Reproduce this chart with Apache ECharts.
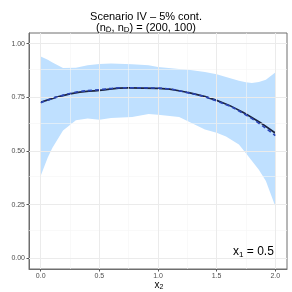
<!DOCTYPE html>
<html><head><meta charset="utf-8">
<script src="https://cdn.jsdelivr.net/npm/echarts@6/dist/echarts.min.js"></script>
<style>html,body{margin:0;padding:0;background:#fff}#c{width:292px;height:292px}</style>
</head><body><div id="c"></div>
<script>
const bandX = [0, 0.06, 0.1, 0.19, 0.3, 0.4, 0.5, 0.6, 0.78, 0.92, 1.0, 1.18, 1.26, 1.4, 1.5, 1.58, 1.69, 1.75, 1.8, 1.86, 1.92, 2.0];
const bandUpper = [0.941, 0.925, 0.912, 0.887, 0.888, 0.900, 0.905, 0.908, 0.904, 0.900, 0.892, 0.882, 0.879, 0.868, 0.858, 0.845, 0.828, 0.820, 0.817, 0.822, 0.832, 0.866];
const bandLower = [0.385, 0.47, 0.515, 0.595, 0.643, 0.652, 0.646, 0.654, 0.659, 0.672, 0.669, 0.659, 0.638, 0.60, 0.585, 0.568, 0.53, 0.49, 0.455, 0.413, 0.36, 0.242];
const lineX = [0, 0.25, 0.5, 0.75, 1.0, 1.25, 1.5, 1.75, 2.0];
const trueAUC = [0.727, 0.766, 0.783, 0.794, 0.792, 0.773, 0.736, 0.672, 0.584];
const estAUC = [0.725, 0.768, 0.786, 0.795, 0.793, 0.772, 0.733, 0.668, 0.572];
const xTicks = [0, 0.5, 1.0, 1.5, 2.0];
const xTickLabels = ['0.0', '0.5', '1.0', '1.5', '2.0'];
const xMinor = [0.25, 0.75, 1.25, 1.75];
const yTicks = [0, 0.25, 0.5, 0.75, 1.0];
const yTickLabels = ['0.00', '0.25', '0.50', '0.75', '1.00'];
const yMinor = [0.125, 0.375, 0.625, 0.875];

const chart = echarts.init(document.getElementById('c'), null, {renderer: 'canvas'});
const F = 'Liberation Sans, Arial, sans-serif';
const gridLines = [].concat(
  xMinor.map(v => ({xAxis: v, lineStyle: {color: '#f5f5f5', width: 0.6, type: 'solid'}})),
  yMinor.map(v => ({yAxis: v, lineStyle: {color: '#f5f5f5', width: 0.6, type: 'solid'}})),
  xTicks.map(v => ({xAxis: v, lineStyle: {color: '#ebebeb', width: 1, type: 'solid'}})),
  yTicks.map(v => ({yAxis: v, lineStyle: {color: '#ebebeb', width: 1, type: 'solid'}}))
);
const bandData = bandX.map((x, i) => [x, bandLower[i], bandUpper[i]]);
chart.setOption({
  animation: false,
  title: [{
    text: 'Scenario IV \u2013 5% cont.',
    left: 'center', top: 6,
    textStyle: {fontFamily: F, fontSize: 11, fontWeight: 'normal', color: '#000'}
  }, {
    text: '(n{s|D\u0304}, n{s|D}) = (200, 100)',
    left: 'center', top: 17,
    textStyle: {fontFamily: F, fontSize: 11, fontWeight: 'normal', color: '#000',
      rich: {s: {fontFamily: F, fontSize: 8, verticalAlign: 'bottom', padding: [4, 0, 0, 0], color: '#000'}}}
  }],
  graphic: [{
    type: 'text', left: 233, top: 246, z: 100,
    style: {text: 'x{s|1} = 0.5', fontFamily: F, fontSize: 12, fill: '#000',
      rich: {s: {fontFamily: F, fontSize: 8, padding: [5, 0, 0, 0], verticalAlign: 'bottom'}}}
  }, {
    type: 'text', x: 159, y: 280, z: 100,
    style: {text: 'x{s|2}', textAlign: 'center', fontFamily: F, fontSize: 10, fill: '#000',
      rich: {s: {fontFamily: F, fontSize: 7, padding: [4, 0, 0, 0], verticalAlign: 'bottom'}}}
  }],
  grid: {left: 29, right: 5, top: 33, bottom: 23, outerBoundsMode: 'none', containLabel: false,
         show: true, borderColor: '#6e6e6e', borderWidth: 1, backgroundColor: '#fff'},
  xAxis: {
    type: 'value', min: -0.1, max: 2.1,
    axisLine: {show: true, onZero: false, lineStyle: {color: '#6e6e6e'}},
    axisTick: {show: true, customValues: xTicks, length: 2.5, lineStyle: {color: '#555'}},
    axisLabel: {customValues: xTicks, formatter: v => xTickLabels[xTicks.indexOf(v)] ?? '', fontFamily: F, fontSize: 7, color: '#4d4d4d', margin: 4},
    splitLine: {show: false}
  },
  yAxis: {
    type: 'value', min: -0.05, max: 1.05,
    name: 'AUC', nameLocation: 'middle', nameGap: 19, nameRotate: 90,
    nameTextStyle: {fontFamily: F, fontSize: 9, color: '#000'},
    axisLine: {show: true, onZero: false, lineStyle: {color: '#6e6e6e'}},
    axisTick: {show: true, customValues: yTicks, length: 2.5, lineStyle: {color: '#555'}},
    axisLabel: {customValues: yTicks, formatter: v => yTickLabels[yTicks.indexOf(v)] ?? '', fontFamily: F, fontSize: 7, color: '#4d4d4d', margin: 4},
    splitLine: {show: false}
  },
  series: [
    {type: 'line', data: [], silent: true, z: 1,
     markLine: {silent: true, symbol: 'none', label: {show: false}, animation: false, data: gridLines}},
    {type: 'custom', name: 'band', data: bandData, silent: true, z: 2,
     encode: {x: 0, y: [1, 2]},
     renderItem: function (params, api) {
       if (params.dataIndex !== 0) return null;
       const upper = bandData.map(d => api.coord([d[0], d[2]]));
       const lower = bandData.map(d => api.coord([d[0], d[1]])).reverse();
       return {type: 'polygon', shape: {points: upper.concat(lower)},
               style: {fill: '#bfe0ff', stroke: null}};
     }},
    {type: 'line', name: 'true', data: lineX.map((x, i) => [x, trueAUC[i]]), smooth: true, showSymbol: false,
     lineStyle: {color: '#1c2541', width: 1.7}, z: 4},
    {type: 'line', name: 'est', data: lineX.map((x, i) => [x, estAUC[i]]), smooth: true, showSymbol: false,
     lineStyle: {color: '#2a45b8', width: 1.6, type: [4, 3]}, z: 5}
  ]
});
</script></body></html>
